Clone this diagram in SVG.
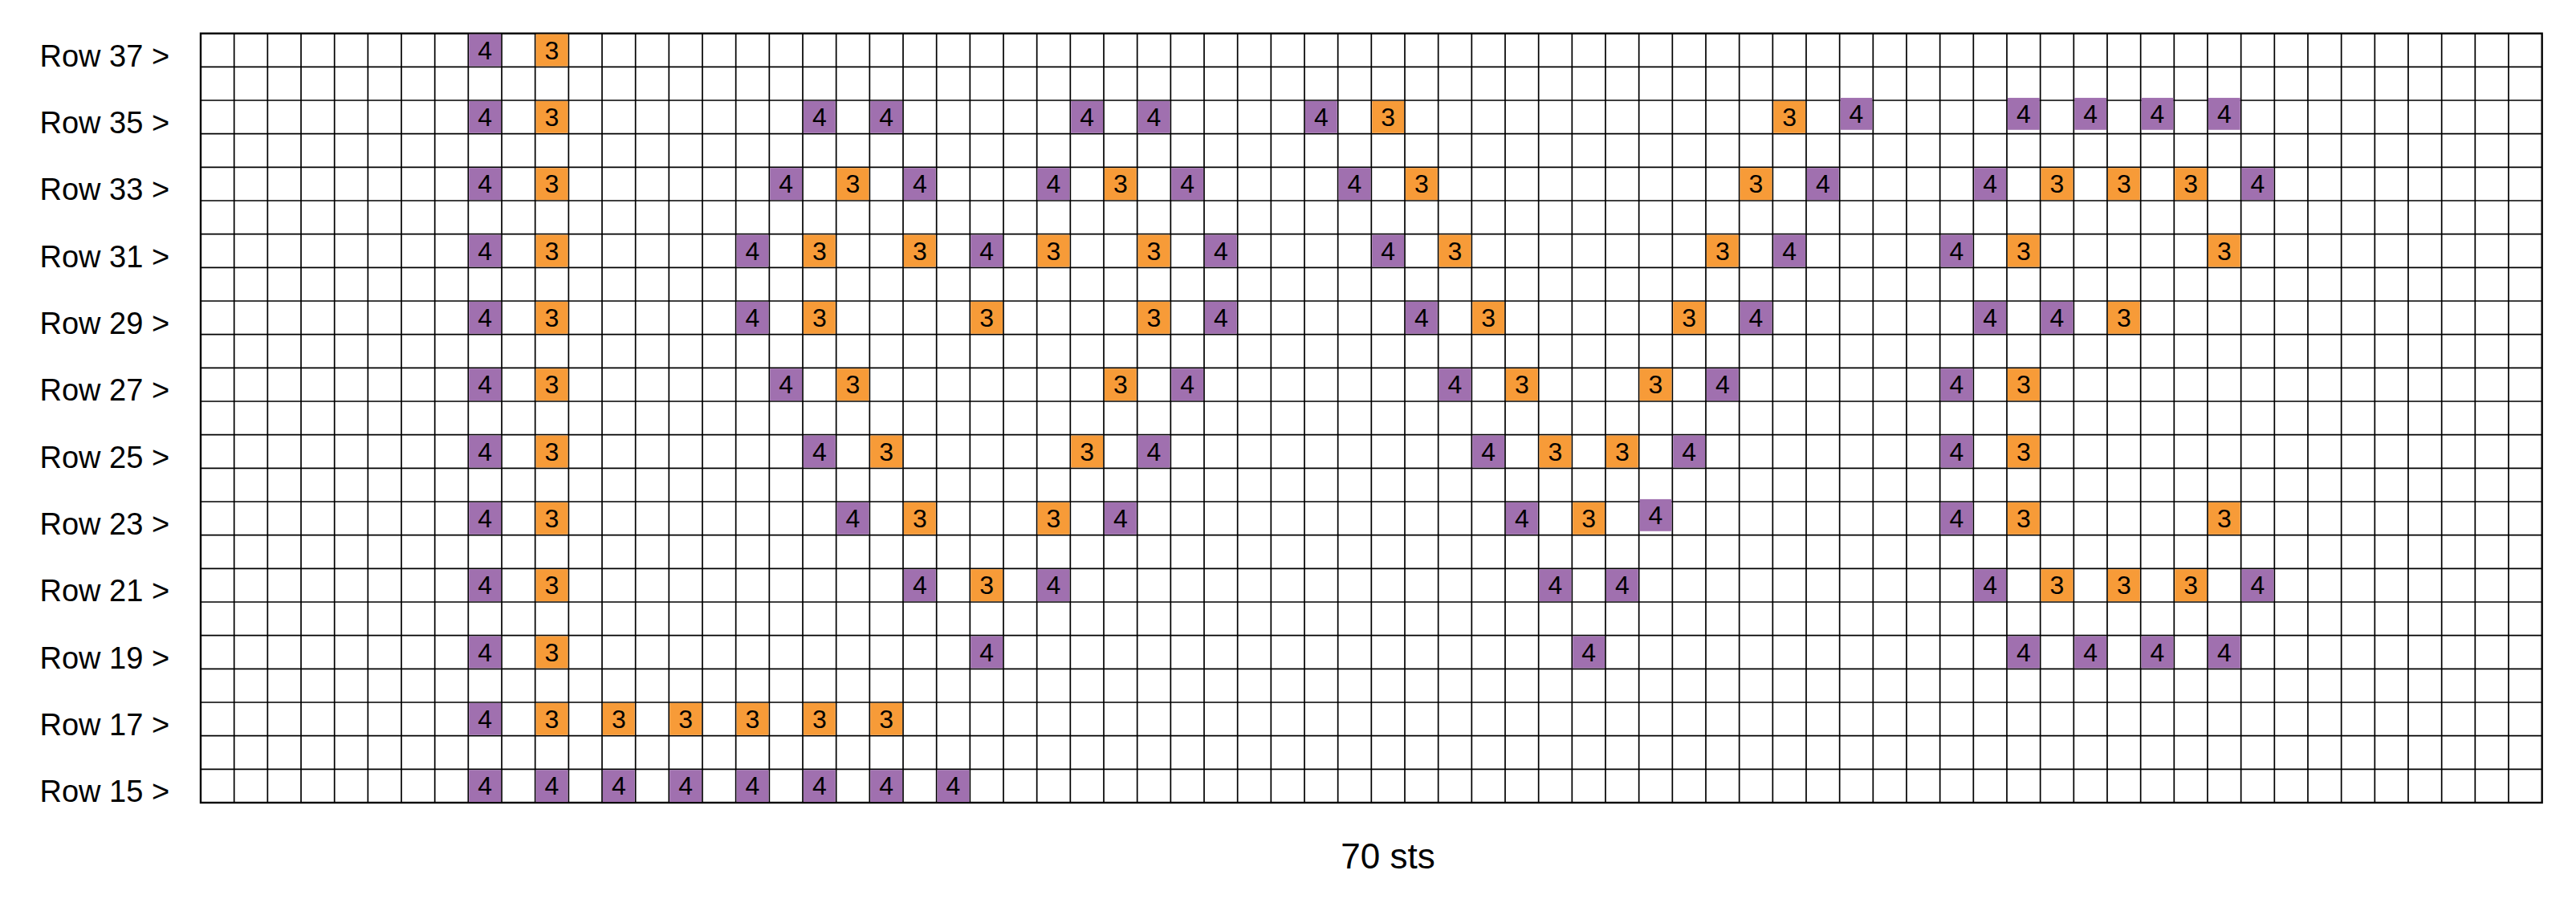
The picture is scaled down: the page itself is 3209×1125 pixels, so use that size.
<svg xmlns="http://www.w3.org/2000/svg" xmlns:xlink="http://www.w3.org/1999/xlink" width="3209" height="1125" viewBox="0 0 3209 1125">
<style>
.bg{fill:#fff}
.grid{fill:none;stroke:#000;stroke-width:1.7}
.border{fill:none;stroke:#000;stroke-width:2.4}
.p{fill:#A070AF}
.o{fill:#F79B38}
.cell text{fill:#000;font-family:"Liberation Sans",Arial,sans-serif;font-size:32px;text-anchor:middle}
.lbl{fill:#000;font-family:"Liberation Sans",Arial,sans-serif;font-size:38px}
.foot{fill:#000;font-family:"Liberation Sans",Arial,sans-serif;font-size:44px;text-anchor:middle}
</style>
<defs>
<rect id="sq" x="0.9" y="0.9" width="39.87" height="39.87"/>
</defs>
<rect class="bg" x="0" y="0" width="3209" height="1125"/>
<g id="grid">
<path class="grid" d="M291.67 41.67V1000M333.33 41.67V1000M375 41.67V1000M416.67 41.67V1000M458.33 41.67V1000M500 41.67V1000M541.67 41.67V1000M583.33 41.67V1000M625 41.67V1000M666.67 41.67V1000M708.33 41.67V1000M750 41.67V1000M791.67 41.67V1000M833.33 41.67V1000M875 41.67V1000M916.67 41.67V1000M958.33 41.67V1000M1000 41.67V1000M1041.67 41.67V1000M1083.33 41.67V1000M1125 41.67V1000M1166.67 41.67V1000M1208.33 41.67V1000M1250 41.67V1000M1291.67 41.67V1000M1333.33 41.67V1000M1375 41.67V1000M1416.67 41.67V1000M1458.33 41.67V1000M1500 41.67V1000M1541.67 41.67V1000M1583.33 41.67V1000M1625 41.67V1000M1666.67 41.67V1000M1708.33 41.67V1000M1750 41.67V1000M1791.67 41.67V1000M1833.33 41.67V1000M1875 41.67V1000M1916.67 41.67V1000M1958.33 41.67V1000M2000 41.67V1000M2041.67 41.67V1000M2083.33 41.67V1000M2125 41.67V1000M2166.67 41.67V1000M2208.33 41.67V1000M2250 41.67V1000M2291.67 41.67V1000M2333.33 41.67V1000M2375 41.67V1000M2416.67 41.67V1000M2458.33 41.67V1000M2500 41.67V1000M2541.67 41.67V1000M2583.33 41.67V1000M2625 41.67V1000M2666.67 41.67V1000M2708.33 41.67V1000M2750 41.67V1000M2791.67 41.67V1000M2833.33 41.67V1000M2875 41.67V1000M2916.67 41.67V1000M2958.33 41.67V1000M3000 41.67V1000M3041.67 41.67V1000M3083.33 41.67V1000M3125 41.67V1000
M250 83.33H3166.67M250 125H3166.67M250 166.67H3166.67M250 208.33H3166.67M250 250H3166.67M250 291.67H3166.67M250 333.33H3166.67M250 375H3166.67M250 416.67H3166.67M250 458.33H3166.67M250 500H3166.67M250 541.67H3166.67M250 583.33H3166.67M250 625H3166.67M250 666.67H3166.67M250 708.33H3166.67M250 750H3166.67M250 791.67H3166.67M250 833.33H3166.67M250 875H3166.67M250 916.67H3166.67M250 958.33H3166.67"/>
<rect class="border" x="250" y="41.67" width="2916.67" height="958.33"/>
</g>
<g id="labels">
<text class="lbl" x="49.5" y="82.7">Row 37 &gt;</text>
<text class="lbl" x="49.5" y="166">Row 35 &gt;</text>
<text class="lbl" x="49.5" y="249.3">Row 33 &gt;</text>
<text class="lbl" x="49.5" y="332.7">Row 31 &gt;</text>
<text class="lbl" x="49.5" y="416">Row 29 &gt;</text>
<text class="lbl" x="49.5" y="499.3">Row 27 &gt;</text>
<text class="lbl" x="49.5" y="582.7">Row 25 &gt;</text>
<text class="lbl" x="49.5" y="666">Row 23 &gt;</text>
<text class="lbl" x="49.5" y="749.3">Row 21 &gt;</text>
<text class="lbl" x="49.5" y="832.7">Row 19 &gt;</text>
<text class="lbl" x="49.5" y="916">Row 17 &gt;</text>
<text class="lbl" x="49.5" y="999.3">Row 15 &gt;</text>
<text class="foot" x="1729" y="1082">70 sts</text>
</g>
<g id="cells">
<!-- Row 37 -->
<g id="r37c8" class="cell p" transform="translate(583.33,41.67)"><use href="#sq"/><text x="20.83" y="32">4</text></g>
<g id="r37c10" class="cell o" transform="translate(666.67,41.67)"><use href="#sq"/><text x="20.83" y="32">3</text></g>
<!-- Row 35 -->
<g id="r35c8" class="cell p" transform="translate(583.33,125)"><use href="#sq"/><text x="20.83" y="32">4</text></g>
<g id="r35c10" class="cell o" transform="translate(666.67,125)"><use href="#sq"/><text x="20.83" y="32">3</text></g>
<g id="r35c18" class="cell p" transform="translate(1000,125)"><use href="#sq"/><text x="20.83" y="32">4</text></g>
<g id="r35c20" class="cell p" transform="translate(1083.33,125)"><use href="#sq"/><text x="20.83" y="32">4</text></g>
<g id="r35c26" class="cell p" transform="translate(1333.33,125)"><use href="#sq"/><text x="20.83" y="32">4</text></g>
<g id="r35c28" class="cell p" transform="translate(1416.67,125)"><use href="#sq"/><text x="20.83" y="32">4</text></g>
<g id="r35c33" class="cell p" transform="translate(1625,125)"><use href="#sq"/><text x="20.83" y="32">4</text></g>
<g id="r35c35" class="cell o" transform="translate(1708.33,125)"><use href="#sq"/><text x="20.83" y="32">3</text></g>
<g id="r35c47" class="cell o" transform="translate(2208.33,125)"><use href="#sq"/><text x="20.83" y="32">3</text></g>
<g id="r35c49" class="cell p" transform="translate(2291.67,121)"><use href="#sq"/><text x="20.83" y="32">4</text></g>
<g id="r35c54" class="cell p" transform="translate(2500,121)"><use href="#sq"/><text x="20.83" y="32">4</text></g>
<g id="r35c56" class="cell p" transform="translate(2583.33,121)"><use href="#sq"/><text x="20.83" y="32">4</text></g>
<g id="r35c58" class="cell p" transform="translate(2666.67,121)"><use href="#sq"/><text x="20.83" y="32">4</text></g>
<g id="r35c60" class="cell p" transform="translate(2750,121)"><use href="#sq"/><text x="20.83" y="32">4</text></g>
<!-- Row 33 -->
<g id="r33c8" class="cell p" transform="translate(583.33,208.33)"><use href="#sq"/><text x="20.83" y="32">4</text></g>
<g id="r33c10" class="cell o" transform="translate(666.67,208.33)"><use href="#sq"/><text x="20.83" y="32">3</text></g>
<g id="r33c17" class="cell p" transform="translate(958.33,208.33)"><use href="#sq"/><text x="20.83" y="32">4</text></g>
<g id="r33c19" class="cell o" transform="translate(1041.67,208.33)"><use href="#sq"/><text x="20.83" y="32">3</text></g>
<g id="r33c21" class="cell p" transform="translate(1125,208.33)"><use href="#sq"/><text x="20.83" y="32">4</text></g>
<g id="r33c25" class="cell p" transform="translate(1291.67,208.33)"><use href="#sq"/><text x="20.83" y="32">4</text></g>
<g id="r33c27" class="cell o" transform="translate(1375,208.33)"><use href="#sq"/><text x="20.83" y="32">3</text></g>
<g id="r33c29" class="cell p" transform="translate(1458.33,208.33)"><use href="#sq"/><text x="20.83" y="32">4</text></g>
<g id="r33c34" class="cell p" transform="translate(1666.67,208.33)"><use href="#sq"/><text x="20.83" y="32">4</text></g>
<g id="r33c36" class="cell o" transform="translate(1750,208.33)"><use href="#sq"/><text x="20.83" y="32">3</text></g>
<g id="r33c46" class="cell o" transform="translate(2166.67,208.33)"><use href="#sq"/><text x="20.83" y="32">3</text></g>
<g id="r33c48" class="cell p" transform="translate(2250,208.33)"><use href="#sq"/><text x="20.83" y="32">4</text></g>
<g id="r33c53" class="cell p" transform="translate(2458.33,208.33)"><use href="#sq"/><text x="20.83" y="32">4</text></g>
<g id="r33c55" class="cell o" transform="translate(2541.67,208.33)"><use href="#sq"/><text x="20.83" y="32">3</text></g>
<g id="r33c57" class="cell o" transform="translate(2625,208.33)"><use href="#sq"/><text x="20.83" y="32">3</text></g>
<g id="r33c59" class="cell o" transform="translate(2708.33,208.33)"><use href="#sq"/><text x="20.83" y="32">3</text></g>
<g id="r33c61" class="cell p" transform="translate(2791.67,208.33)"><use href="#sq"/><text x="20.83" y="32">4</text></g>
<!-- Row 31 -->
<g id="r31c8" class="cell p" transform="translate(583.33,291.67)"><use href="#sq"/><text x="20.83" y="32">4</text></g>
<g id="r31c10" class="cell o" transform="translate(666.67,291.67)"><use href="#sq"/><text x="20.83" y="32">3</text></g>
<g id="r31c16" class="cell p" transform="translate(916.67,291.67)"><use href="#sq"/><text x="20.83" y="32">4</text></g>
<g id="r31c18" class="cell o" transform="translate(1000,291.67)"><use href="#sq"/><text x="20.83" y="32">3</text></g>
<g id="r31c21" class="cell o" transform="translate(1125,291.67)"><use href="#sq"/><text x="20.83" y="32">3</text></g>
<g id="r31c23" class="cell p" transform="translate(1208.33,291.67)"><use href="#sq"/><text x="20.83" y="32">4</text></g>
<g id="r31c25" class="cell o" transform="translate(1291.67,291.67)"><use href="#sq"/><text x="20.83" y="32">3</text></g>
<g id="r31c28" class="cell o" transform="translate(1416.67,291.67)"><use href="#sq"/><text x="20.83" y="32">3</text></g>
<g id="r31c30" class="cell p" transform="translate(1500,291.67)"><use href="#sq"/><text x="20.83" y="32">4</text></g>
<g id="r31c35" class="cell p" transform="translate(1708.33,291.67)"><use href="#sq"/><text x="20.83" y="32">4</text></g>
<g id="r31c37" class="cell o" transform="translate(1791.67,291.67)"><use href="#sq"/><text x="20.83" y="32">3</text></g>
<g id="r31c45" class="cell o" transform="translate(2125,291.67)"><use href="#sq"/><text x="20.83" y="32">3</text></g>
<g id="r31c47" class="cell p" transform="translate(2208.33,291.67)"><use href="#sq"/><text x="20.83" y="32">4</text></g>
<g id="r31c52" class="cell p" transform="translate(2416.67,291.67)"><use href="#sq"/><text x="20.83" y="32">4</text></g>
<g id="r31c54" class="cell o" transform="translate(2500,291.67)"><use href="#sq"/><text x="20.83" y="32">3</text></g>
<g id="r31c60" class="cell o" transform="translate(2750,291.67)"><use href="#sq"/><text x="20.83" y="32">3</text></g>
<!-- Row 29 -->
<g id="r29c8" class="cell p" transform="translate(583.33,375)"><use href="#sq"/><text x="20.83" y="32">4</text></g>
<g id="r29c10" class="cell o" transform="translate(666.67,375)"><use href="#sq"/><text x="20.83" y="32">3</text></g>
<g id="r29c16" class="cell p" transform="translate(916.67,375)"><use href="#sq"/><text x="20.83" y="32">4</text></g>
<g id="r29c18" class="cell o" transform="translate(1000,375)"><use href="#sq"/><text x="20.83" y="32">3</text></g>
<g id="r29c23" class="cell o" transform="translate(1208.33,375)"><use href="#sq"/><text x="20.83" y="32">3</text></g>
<g id="r29c28" class="cell o" transform="translate(1416.67,375)"><use href="#sq"/><text x="20.83" y="32">3</text></g>
<g id="r29c30" class="cell p" transform="translate(1500,375)"><use href="#sq"/><text x="20.83" y="32">4</text></g>
<g id="r29c36" class="cell p" transform="translate(1750,375)"><use href="#sq"/><text x="20.83" y="32">4</text></g>
<g id="r29c38" class="cell o" transform="translate(1833.33,375)"><use href="#sq"/><text x="20.83" y="32">3</text></g>
<g id="r29c44" class="cell o" transform="translate(2083.33,375)"><use href="#sq"/><text x="20.83" y="32">3</text></g>
<g id="r29c46" class="cell p" transform="translate(2166.67,375)"><use href="#sq"/><text x="20.83" y="32">4</text></g>
<g id="r29c53" class="cell p" transform="translate(2458.33,375)"><use href="#sq"/><text x="20.83" y="32">4</text></g>
<g id="r29c55" class="cell p" transform="translate(2541.67,375)"><use href="#sq"/><text x="20.83" y="32">4</text></g>
<g id="r29c57" class="cell o" transform="translate(2625,375)"><use href="#sq"/><text x="20.83" y="32">3</text></g>
<!-- Row 27 -->
<g id="r27c8" class="cell p" transform="translate(583.33,458.33)"><use href="#sq"/><text x="20.83" y="32">4</text></g>
<g id="r27c10" class="cell o" transform="translate(666.67,458.33)"><use href="#sq"/><text x="20.83" y="32">3</text></g>
<g id="r27c17" class="cell p" transform="translate(958.33,458.33)"><use href="#sq"/><text x="20.83" y="32">4</text></g>
<g id="r27c19" class="cell o" transform="translate(1041.67,458.33)"><use href="#sq"/><text x="20.83" y="32">3</text></g>
<g id="r27c27" class="cell o" transform="translate(1375,458.33)"><use href="#sq"/><text x="20.83" y="32">3</text></g>
<g id="r27c29" class="cell p" transform="translate(1458.33,458.33)"><use href="#sq"/><text x="20.83" y="32">4</text></g>
<g id="r27c37" class="cell p" transform="translate(1791.67,458.33)"><use href="#sq"/><text x="20.83" y="32">4</text></g>
<g id="r27c39" class="cell o" transform="translate(1875,458.33)"><use href="#sq"/><text x="20.83" y="32">3</text></g>
<g id="r27c43" class="cell o" transform="translate(2041.67,458.33)"><use href="#sq"/><text x="20.83" y="32">3</text></g>
<g id="r27c45" class="cell p" transform="translate(2125,458.33)"><use href="#sq"/><text x="20.83" y="32">4</text></g>
<g id="r27c52" class="cell p" transform="translate(2416.67,458.33)"><use href="#sq"/><text x="20.83" y="32">4</text></g>
<g id="r27c54" class="cell o" transform="translate(2500,458.33)"><use href="#sq"/><text x="20.83" y="32">3</text></g>
<!-- Row 25 -->
<g id="r25c8" class="cell p" transform="translate(583.33,541.67)"><use href="#sq"/><text x="20.83" y="32">4</text></g>
<g id="r25c10" class="cell o" transform="translate(666.67,541.67)"><use href="#sq"/><text x="20.83" y="32">3</text></g>
<g id="r25c18" class="cell p" transform="translate(1000,541.67)"><use href="#sq"/><text x="20.83" y="32">4</text></g>
<g id="r25c20" class="cell o" transform="translate(1083.33,541.67)"><use href="#sq"/><text x="20.83" y="32">3</text></g>
<g id="r25c26" class="cell o" transform="translate(1333.33,541.67)"><use href="#sq"/><text x="20.83" y="32">3</text></g>
<g id="r25c28" class="cell p" transform="translate(1416.67,541.67)"><use href="#sq"/><text x="20.83" y="32">4</text></g>
<g id="r25c38" class="cell p" transform="translate(1833.33,541.67)"><use href="#sq"/><text x="20.83" y="32">4</text></g>
<g id="r25c40" class="cell o" transform="translate(1916.67,541.67)"><use href="#sq"/><text x="20.83" y="32">3</text></g>
<g id="r25c42" class="cell o" transform="translate(2000,541.67)"><use href="#sq"/><text x="20.83" y="32">3</text></g>
<g id="r25c44" class="cell p" transform="translate(2083.33,541.67)"><use href="#sq"/><text x="20.83" y="32">4</text></g>
<g id="r25c52" class="cell p" transform="translate(2416.67,541.67)"><use href="#sq"/><text x="20.83" y="32">4</text></g>
<g id="r25c54" class="cell o" transform="translate(2500,541.67)"><use href="#sq"/><text x="20.83" y="32">3</text></g>
<!-- Row 23 -->
<g id="r23c8" class="cell p" transform="translate(583.33,625)"><use href="#sq"/><text x="20.83" y="32">4</text></g>
<g id="r23c10" class="cell o" transform="translate(666.67,625)"><use href="#sq"/><text x="20.83" y="32">3</text></g>
<g id="r23c19" class="cell p" transform="translate(1041.67,625)"><use href="#sq"/><text x="20.83" y="32">4</text></g>
<g id="r23c21" class="cell o" transform="translate(1125,625)"><use href="#sq"/><text x="20.83" y="32">3</text></g>
<g id="r23c25" class="cell o" transform="translate(1291.67,625)"><use href="#sq"/><text x="20.83" y="32">3</text></g>
<g id="r23c27" class="cell p" transform="translate(1375,625)"><use href="#sq"/><text x="20.83" y="32">4</text></g>
<g id="r23c39" class="cell p" transform="translate(1875,625)"><use href="#sq"/><text x="20.83" y="32">4</text></g>
<g id="r23c41" class="cell o" transform="translate(1958.33,625)"><use href="#sq"/><text x="20.83" y="32">3</text></g>
<g id="r23c43" class="cell p" transform="translate(2041.67,621)"><use href="#sq"/><text x="20.83" y="32">4</text></g>
<g id="r23c52" class="cell p" transform="translate(2416.67,625)"><use href="#sq"/><text x="20.83" y="32">4</text></g>
<g id="r23c54" class="cell o" transform="translate(2500,625)"><use href="#sq"/><text x="20.83" y="32">3</text></g>
<g id="r23c60" class="cell o" transform="translate(2750,625)"><use href="#sq"/><text x="20.83" y="32">3</text></g>
<!-- Row 21 -->
<g id="r21c8" class="cell p" transform="translate(583.33,708.33)"><use href="#sq"/><text x="20.83" y="32">4</text></g>
<g id="r21c10" class="cell o" transform="translate(666.67,708.33)"><use href="#sq"/><text x="20.83" y="32">3</text></g>
<g id="r21c21" class="cell p" transform="translate(1125,708.33)"><use href="#sq"/><text x="20.83" y="32">4</text></g>
<g id="r21c23" class="cell o" transform="translate(1208.33,708.33)"><use href="#sq"/><text x="20.83" y="32">3</text></g>
<g id="r21c25" class="cell p" transform="translate(1291.67,708.33)"><use href="#sq"/><text x="20.83" y="32">4</text></g>
<g id="r21c40" class="cell p" transform="translate(1916.67,708.33)"><use href="#sq"/><text x="20.83" y="32">4</text></g>
<g id="r21c42" class="cell p" transform="translate(2000,708.33)"><use href="#sq"/><text x="20.83" y="32">4</text></g>
<g id="r21c53" class="cell p" transform="translate(2458.33,708.33)"><use href="#sq"/><text x="20.83" y="32">4</text></g>
<g id="r21c55" class="cell o" transform="translate(2541.67,708.33)"><use href="#sq"/><text x="20.83" y="32">3</text></g>
<g id="r21c57" class="cell o" transform="translate(2625,708.33)"><use href="#sq"/><text x="20.83" y="32">3</text></g>
<g id="r21c59" class="cell o" transform="translate(2708.33,708.33)"><use href="#sq"/><text x="20.83" y="32">3</text></g>
<g id="r21c61" class="cell p" transform="translate(2791.67,708.33)"><use href="#sq"/><text x="20.83" y="32">4</text></g>
<!-- Row 19 -->
<g id="r19c8" class="cell p" transform="translate(583.33,791.67)"><use href="#sq"/><text x="20.83" y="32">4</text></g>
<g id="r19c10" class="cell o" transform="translate(666.67,791.67)"><use href="#sq"/><text x="20.83" y="32">3</text></g>
<g id="r19c23" class="cell p" transform="translate(1208.33,791.67)"><use href="#sq"/><text x="20.83" y="32">4</text></g>
<g id="r19c41" class="cell p" transform="translate(1958.33,791.67)"><use href="#sq"/><text x="20.83" y="32">4</text></g>
<g id="r19c54" class="cell p" transform="translate(2500,791.67)"><use href="#sq"/><text x="20.83" y="32">4</text></g>
<g id="r19c56" class="cell p" transform="translate(2583.33,791.67)"><use href="#sq"/><text x="20.83" y="32">4</text></g>
<g id="r19c58" class="cell p" transform="translate(2666.67,791.67)"><use href="#sq"/><text x="20.83" y="32">4</text></g>
<g id="r19c60" class="cell p" transform="translate(2750,791.67)"><use href="#sq"/><text x="20.83" y="32">4</text></g>
<!-- Row 17 -->
<g id="r17c8" class="cell p" transform="translate(583.33,875)"><use href="#sq"/><text x="20.83" y="32">4</text></g>
<g id="r17c10" class="cell o" transform="translate(666.67,875)"><use href="#sq"/><text x="20.83" y="32">3</text></g>
<g id="r17c12" class="cell o" transform="translate(750,875)"><use href="#sq"/><text x="20.83" y="32">3</text></g>
<g id="r17c14" class="cell o" transform="translate(833.33,875)"><use href="#sq"/><text x="20.83" y="32">3</text></g>
<g id="r17c16" class="cell o" transform="translate(916.67,875)"><use href="#sq"/><text x="20.83" y="32">3</text></g>
<g id="r17c18" class="cell o" transform="translate(1000,875)"><use href="#sq"/><text x="20.83" y="32">3</text></g>
<g id="r17c20" class="cell o" transform="translate(1083.33,875)"><use href="#sq"/><text x="20.83" y="32">3</text></g>
<!-- Row 15 -->
<g id="r15c8" class="cell p" transform="translate(583.33,958.33)"><use href="#sq"/><text x="20.83" y="32">4</text></g>
<g id="r15c10" class="cell p" transform="translate(666.67,958.33)"><use href="#sq"/><text x="20.83" y="32">4</text></g>
<g id="r15c12" class="cell p" transform="translate(750,958.33)"><use href="#sq"/><text x="20.83" y="32">4</text></g>
<g id="r15c14" class="cell p" transform="translate(833.33,958.33)"><use href="#sq"/><text x="20.83" y="32">4</text></g>
<g id="r15c16" class="cell p" transform="translate(916.67,958.33)"><use href="#sq"/><text x="20.83" y="32">4</text></g>
<g id="r15c18" class="cell p" transform="translate(1000,958.33)"><use href="#sq"/><text x="20.83" y="32">4</text></g>
<g id="r15c20" class="cell p" transform="translate(1083.33,958.33)"><use href="#sq"/><text x="20.83" y="32">4</text></g>
<g id="r15c22" class="cell p" transform="translate(1166.67,958.33)"><use href="#sq"/><text x="20.83" y="32">4</text></g>
</g>
</svg>
